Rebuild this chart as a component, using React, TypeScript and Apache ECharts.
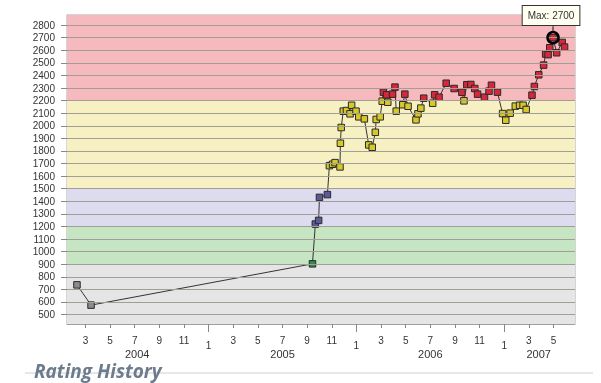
import React, { useEffect, useRef } from 'react';
import * as echarts from 'echarts';

// ---- data ----
const ratingDates: string[] = [
  '2004-02-10', '2004-03-15',
  '2005-09-14', '2005-09-21', '2005-09-29', '2005-10-01', '2005-10-21', '2005-10-26',
  '2005-11-03', '2005-11-09', '2005-11-21', '2005-11-22', '2005-11-24', '2005-11-29',
  '2005-12-07', '2005-12-16', '2005-12-20', '2005-12-31',
  '2006-01-07', '2006-01-21', '2006-02-01', '2006-02-09', '2006-02-16', '2006-02-18', '2006-02-27',
  '2006-03-04', '2006-03-07', '2006-03-15', '2006-03-18', '2006-03-30',
  '2006-04-05', '2006-04-08', '2006-04-24', '2006-04-29',
  '2006-05-07', '2006-05-27', '2006-06-01', '2006-06-08', '2006-06-15',
  '2006-07-07', '2006-07-12', '2006-07-23', '2006-08-10', '2006-08-30',
  '2006-09-18', '2006-09-23', '2006-09-30', '2006-10-10', '2006-10-20', '2006-10-27',
  '2006-11-13', '2006-11-24', '2006-11-30', '2006-12-15', '2006-12-28',
  '2007-01-05', '2007-01-16', '2007-01-29', '2007-02-08', '2007-02-16', '2007-02-23',
  '2007-03-09', '2007-03-15', '2007-03-26', '2007-04-07', '2007-04-12', '2007-04-18',
  '2007-04-22', '2007-04-30', '2007-05-09', '2007-05-23', '2007-05-29',
];
const ratingValues: number[] = [
  736, 575,
  903, 1219, 1248, 1431, 1453, 1683,
  1694, 1707, 1673, 1861, 1986, 2116,
  2121, 2095, 2163, 2116,
  2071, 2055, 1848, 1829, 1948, 2050, 2071,
  2195, 2267, 2246, 2187, 2251,
  2307, 2116, 2167, 2251,
  2155, 2047, 2095, 2140, 2219,
  2179, 2246, 2227, 2338, 2296,
  2266, 2198, 2326, 2328, 2296, 2251,
  2227, 2275, 2322, 2267, 2097,
  2044, 2100, 2156, 2163, 2163, 2129,
  2243, 2312, 2405, 2482, 2570, 2565,
  2620, 2700, 2580, 2662, 2625,
];
const yTickValues: number[] = [500, 600, 700, 800, 900, 1000, 1100, 1200, 1300, 1400, 1500, 1600, 1700,
  1800, 1900, 2000, 2100, 2200, 2300, 2400, 2500, 2600, 2700, 2800];
// month ticks, in months since Jan 2004 (0 = Jan 2004)
const monthTickValues: number[] = [2, 4, 6, 8, 10, 12, 14, 16, 18, 20, 22, 24, 26, 28, 30, 32, 34, 36, 38, 40];
const janTickValues: number[] = [12, 24, 36];
const yearLabelPositions: number[] = [6.2, 18, 30, 38.8];
const yearLabels: string[] = ['2004', '2005', '2006', '2007'];
const bandEdges: number[] = [425, 900, 1200, 1500, 2200, 2880];
const bandFills: string[] = ['#e5e5e5', '#c6e5c2', '#dddbf0', '#f6f0c3', '#f6b9bd'];
const markerFills: string[] = ['#8c8c8c', '#2f8a4e', '#5a5a98', '#d6c72a', '#d4293a'];

const toMonthIndex = (s: string): number => {
  const [y, m, d] = s.split('-').map(Number);
  const dim = new Date(y, m, 0).getDate();
  return (y - 2004) * 12 + (m - 1) + (d - 1) / dim;
};

const bandIndex = (v: number): number => {
  for (let i = bandEdges.length - 2; i >= 0; i--) if (v >= bandEdges[i]) return i;
  return 0;
};

export default function App() {
  const ref = useRef<HTMLDivElement>(null);

  useEffect(() => {
    if (!ref.current) return;
    const chart = echarts.init(ref.current, undefined, { renderer: 'svg' });

    const points = ratingDates.map((d, i) => ({
      value: [toMonthIndex(d), ratingValues[i]],
      itemStyle: { color: markerFills[bandIndex(ratingValues[i])] },
    }));
    let maxI = 0;
    ratingValues.forEach((v, i) => { if (v > ratingValues[maxI]) maxI = i; });
    const maxCoord = [toMonthIndex(ratingDates[maxI]), ratingValues[maxI]];

    const font = 'Arial, "Liberation Sans", sans-serif';

    chart.setOption({
      animation: false,
      grid: { left: 67, right: 26, top: 15, bottom: 59, show: true, borderColor: '#aaaaaa', borderWidth: 1, outerBoundsMode: 'none' },
      xAxis: [
        {
          type: 'value', min: 0.5, max: 41.75,
          axisLine: { show: true, lineStyle: { color: '#a0a0a0' } },
          splitLine: { show: false },
          axisTick: { show: true, customValues: monthTickValues, length: 4, lineStyle: { color: '#888' } },
          axisLabel: {
            customValues: monthTickValues, margin: 11, fontSize: 10, color: '#333', fontFamily: font,
            formatter: (v: number) => {
              const m = (Math.round(v) % 12) + 1;
              return m === 1 ? '{j|1}' : String(m);
            },
            rich: { j: { padding: [5, 0, 0, 0], fontSize: 10, color: '#333', fontFamily: font } },
          },
        },
        {
          type: 'value', min: 0.5, max: 41.75, position: 'bottom',
          axisLine: { show: false },
          splitLine: { show: false },
          axisTick: { show: true, customValues: janTickValues, length: 8, lineStyle: { color: '#888' } },
          axisLabel: {
            customValues: yearLabelPositions, margin: 24, fontSize: 11, lineHeight: 11, color: '#333', fontFamily: font,
            formatter: (v: number) => {
              const idx = yearLabelPositions.findIndex((p) => Math.abs(p - v) < 0.01);
              return idx >= 0 ? yearLabels[idx] : '';
            },
          },
        },
      ],
      yAxis: {
        type: 'value', min: 425, max: 2880,
        axisLine: { show: true, lineStyle: { color: '#a0a0a0' } },
        splitLine: { show: false },
        axisTick: { show: true, customValues: yTickValues, length: 6, lineStyle: { color: '#888' } },
        axisLabel: {
          customValues: yTickValues, margin: 12, fontSize: 10, color: '#333', fontFamily: font,
          formatter: (v: number) => String(v),
        },
      },
      graphic: [
        { type: 'line', silent: true, shape: { x1: 25, y1: 373, x2: 593, y2: 373 }, style: { stroke: '#cfcfcf', lineWidth: 1 } },
        {
          type: 'text', left: 34, top: 361, silent: true,
          style: { text: 'Rating History', fill: '#6c7c8c', font: 'italic bold 19px "Open Sans", sans-serif', lineHeight: 20 },
        },
      ],
      series: [
        {
          type: 'line', data: [], z: 1, silent: true,
          markArea: {
            silent: true,
            data: bandFills.map((c, i) => [
              { yAxis: bandEdges[i], itemStyle: { color: c } },
              { yAxis: bandEdges[i + 1] },
            ]),
          },
        },
        {
          type: 'line', data: [], z: 2, silent: true,
          markLine: {
            silent: true, symbol: 'none', label: { show: false },
            lineStyle: { color: '#a29e96', type: 'solid', width: 1 },
            data: yTickValues.map((v) => ({ yAxis: v })),
          },
        },
        {
          type: 'line', z: 3, data: points,
          symbol: 'rect', symbolSize: 6.5,
          lineStyle: { color: '#333', width: 1 },
          itemStyle: { borderColor: '#2a2a2a', borderWidth: 1 },
          markPoint: {
            silent: true,
            data: [
              {
                coord: maxCoord, value: ratingValues[maxI],
                symbol: 'circle', symbolSize: 11,
                itemStyle: { color: 'rgba(0,0,0,0)', borderColor: '#000', borderWidth: 2.5 },
                label: {
                  show: true, position: 'top', distance: 6, offset: [-2, 0],
                  formatter: 'Max: {c}', backgroundColor: '#fffff2', borderColor: '#333', borderWidth: 1,
                  padding: [4, 5, 3, 5], fontSize: 10, lineHeight: 12, color: '#333', fontFamily: font,
                },
              },
              {
                coord: maxCoord, value: ratingValues[maxI],
                symbol: 'rect', symbolSize: [1.2, 5], symbolOffset: [0, -9],
                itemStyle: { color: '#333', borderWidth: 0 },
                label: { show: false },
              },
            ],
          },
        },
      ],
    });

    return () => chart.dispose();
  }, []);

  return <div ref={ref} style={{ position: 'fixed', left: 0, top: 0, width: 601, height: 383 }} />;
}
